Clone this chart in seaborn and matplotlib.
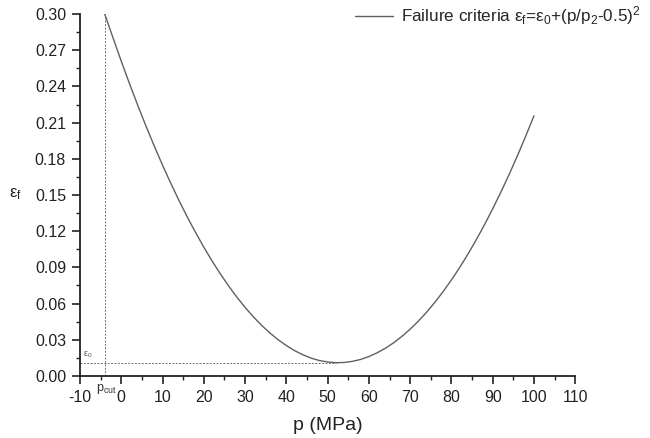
import matplotlib
matplotlib.use("Agg")
import matplotlib.pyplot as plt
from matplotlib.ticker import MultipleLocator, FormatStrFormatter
import seaborn as sns
import pandas as pd

# Failure strain curve read at 2 MPa steps
pressure = [-4, -2, 0, 2, 4, 6, 8, 10, 12, 14, 16, 18, 20, 22, 24, 26, 28,
            30, 32, 34, 36, 38, 40, 42, 44, 46, 48, 50, 52, 54, 56, 58, 60,
            62, 64, 66, 68, 70, 72, 74, 76, 78, 80, 82, 84, 86, 88, 90, 92,
            94, 96, 98, 100]
eps_f = [0.3000, 0.2804, 0.2610, 0.2423, 0.2244, 0.2071, 0.1906, 0.1748,
         0.1598, 0.1454, 0.1318, 0.1190, 0.1068, 0.0954, 0.0847, 0.0747,
         0.0654, 0.0569, 0.0491, 0.0420, 0.0357, 0.0301, 0.0252, 0.0210,
         0.0176, 0.0148, 0.0128, 0.0116, 0.0110, 0.0112, 0.0121, 0.0137,
         0.0161, 0.0192, 0.0230, 0.0275, 0.0328, 0.0388, 0.0455, 0.0529,
         0.0611, 0.0700, 0.0796, 0.0899, 0.1010, 0.1128, 0.1253, 0.1386,
         0.1525, 0.1672, 0.1826, 0.1988, 0.2157]
p_cut = -4
eps0 = 0.011
p_min = 52

df = pd.DataFrame({"p": pressure, "eps": eps_f})

sns.set_theme(style="ticks")
plt.rcParams["font.family"] = ["Liberation Sans", "DejaVu Sans"]
plt.rcParams["mathtext.fontset"] = "custom"
plt.rcParams["mathtext.rm"] = "Liberation Sans"
plt.rcParams["mathtext.it"] = "Liberation Sans"
plt.rcParams["axes.unicode_minus"] = False

fig = plt.figure(figsize=(6.5, 4.38), dpi=100)
ax = fig.add_axes([0.123, 0.1416, 0.762, 0.8264])

sns.lineplot(data=df, x="p", y="eps", ax=ax, color="#606060", linewidth=1.0,
             label=r"Failure criteria $\varepsilon_f$=$\varepsilon_0$+(p/p$_2$-0.5)$^2$")

# guide lines for p_cut and eps0
ax.plot([p_cut, p_cut], [0, max(eps_f)], ls=(0, (2, 1.5)), color="#707070", lw=0.7)
ax.plot([-10, p_min], [eps0, eps0], ls=(0, (2, 1.5)), color="#707070", lw=0.7)
ax.text(-9.3, eps0 + 0.002, r"$\varepsilon_0$", fontsize=6.5, color="#555555",
        ha="left", va="bottom")
ax.text(p_cut + 0.3, -0.005, r"p$_{cut}$", fontsize=9, color="#333333",
        ha="center", va="top")

ax.set_xlim(-10, 110)
ax.set_ylim(0, 0.30)
ax.xaxis.set_major_locator(MultipleLocator(10))
ax.xaxis.set_minor_locator(MultipleLocator(5))
ax.yaxis.set_major_locator(MultipleLocator(0.03))
ax.yaxis.set_minor_locator(MultipleLocator(0.015))
ax.yaxis.set_major_formatter(FormatStrFormatter("%.2f"))

for side in ["top", "right"]:
    ax.spines[side].set_visible(False)
for side in ["left", "bottom"]:
    ax.spines[side].set_linewidth(1.3)
    ax.spines[side].set_color("#222222")
ax.tick_params(which="major", direction="out", length=6, width=1.2,
               labelsize=11.5, colors="#222222", pad=4)
ax.tick_params(which="minor", direction="out", length=3, width=1.0,
               colors="#222222")

ax.set_xlabel("p (MPa)", fontsize=14, color="#222222", labelpad=9)
ax.set_ylabel(r"$\varepsilon_f$", fontsize=12, color="#222222", rotation=0)
ax.yaxis.set_label_coords(-0.13, 0.48)

leg = ax.legend(loc="upper right", frameon=False, fontsize=12.3,
                handlelength=2.2, handletextpad=0.5,
                bbox_to_anchor=(1.146, 1.045), borderaxespad=0)

fig.savefig("out.png", dpi=100)
